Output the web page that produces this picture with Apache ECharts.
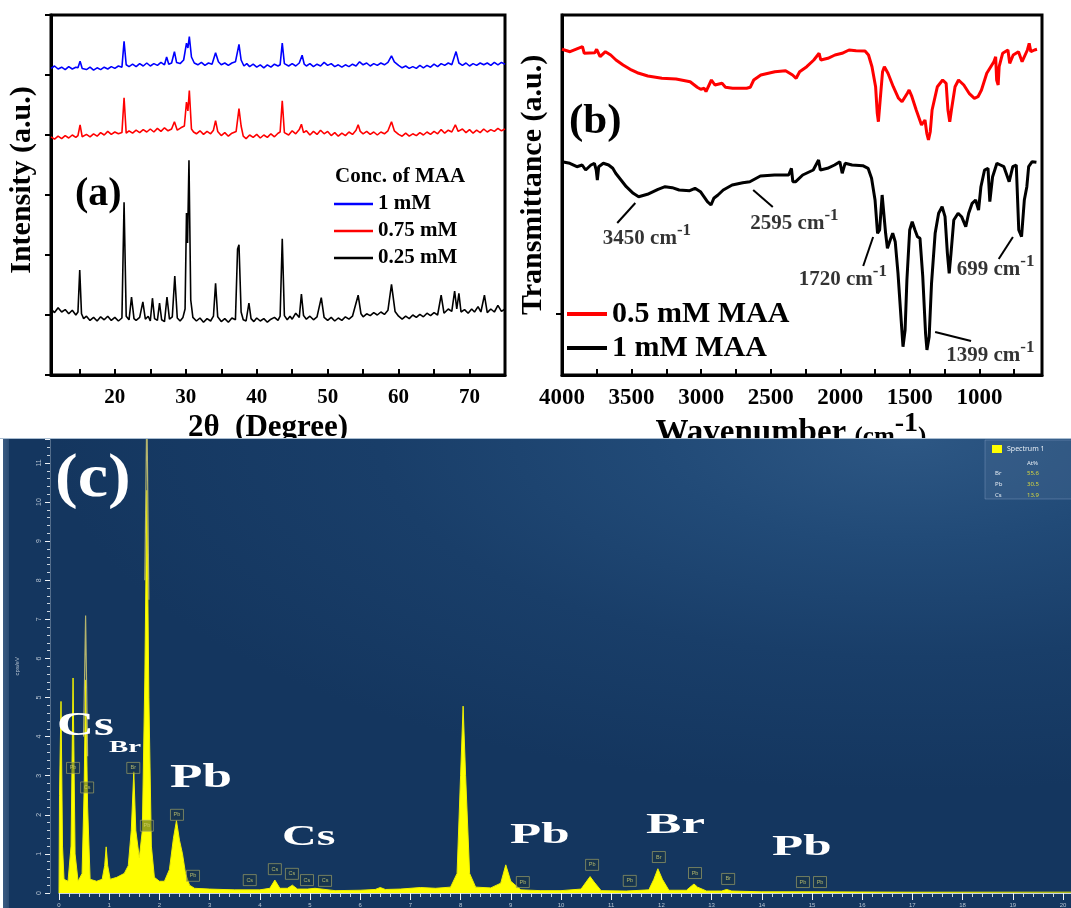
<!DOCTYPE html>
<html>
<head>
<meta charset="utf-8">
<script src="https://cdn.jsdelivr.net/npm/echarts@6/dist/echarts.min.js"></script>
<style>
html,body{margin:0;padding:0;background:#fff;width:1071px;height:908px;overflow:hidden}
#panelTop{position:absolute;left:0;top:0;width:1071px;height:438px}
#panelBottom{position:absolute;left:0;top:438px;width:1071px;height:470px;
  background:
    linear-gradient(to bottom,#a9bdd1 0,#a9bdd1 1px,transparent 1px),
    linear-gradient(to right,#fff 0,#fff 3px,#3a5b82 3px,#2b4b72 9px,transparent 9px),
    radial-gradient(ellipse 80% 75% at 85% 0%,#2d5784 0%,#214a77 30%,#193e69 62%,#14365f 100%);}
</style>
</head>
<body>
<div id="panelTop"></div>
<div id="panelBottom"></div>
<script>
// ---------- (a) XRD patterns: [2θ, stacked intensity] ----------
const xrdBlue = [[11,4.11],[11.5,4.15],[12,4.10],[12.5,4.13],[13,4.09],[13.5,4.14],[14,4.10],[14.5,4.13],[14.8,4.12],[15.1,4.23],[15.4,4.11],[16,4.09],[16.5,4.13],[17,4.08],[17.5,4.12],[18,4.09],[18.5,4.13],[19,4.10],[19.5,4.14],[20,4.11],[20.5,4.15],[21.0,4.13],[21.3,4.56],[21.6,4.17],[22,4.14],[22.5,4.18],[23,4.14],[23.5,4.19],[24,4.15],[24.5,4.20],[25,4.15],[25.5,4.19],[26,4.16],[26.5,4.21],[27,4.17],[27.3,4.30],[27.6,4.18],[28,4.20],[28.4,4.39],[28.7,4.21],[29.2,4.19],[29.7,4.25],[30.1,4.53],[30.3,4.45],[30.5,4.64],[30.8,4.30],[31.2,4.20],[31.7,4.17],[32.2,4.21],[32.7,4.16],[33.2,4.20],[33.7,4.18],[34.2,4.37],[34.6,4.22],[35,4.17],[35.5,4.20],[36,4.16],[36.5,4.20],[37,4.22],[37.5,4.51],[37.8,4.25],[38.2,4.15],[38.6,4.19],[39,4.14],[39.5,4.18],[40,4.13],[40.5,4.17],[41,4.12],[41.5,4.17],[42,4.13],[42.5,4.18],[43,4.15],[43.3,4.17],[43.6,4.53],[43.9,4.19],[44.5,4.15],[45,4.19],[45.5,4.15],[46,4.20],[46.4,4.33],[46.7,4.18],[47,4.15],[47.5,4.19],[48,4.14],[48.5,4.18],[49,4.15],[49.5,4.21],[50,4.16],[50.5,4.19],[51,4.14],[51.5,4.17],[52,4.13],[52.5,4.17],[53,4.14],[53.5,4.18],[54,4.15],[54.5,4.22],[55,4.17],[55.5,4.20],[56,4.15],[56.5,4.19],[57,4.16],[57.5,4.20],[58,4.17],[58.5,4.21],[59,4.32],[59.4,4.22],[60,4.16],[60.5,4.12],[61,4.15],[61.5,4.11],[62,4.14],[62.5,4.11],[63,4.16],[63.5,4.12],[64,4.16],[64.5,4.13],[65,4.18],[65.5,4.14],[66,4.19],[66.5,4.16],[67,4.20],[67.5,4.17],[68.1,4.39],[68.5,4.20],[69,4.16],[69.5,4.20],[70,4.15],[70.5,4.19],[71,4.16],[71.5,4.20],[72,4.17],[72.5,4.20],[73,4.16],[73.5,4.21],[74,4.17],[74.5,4.21],[75,4.18]];

const xrdRed = [[11,2.97],[11.5,2.93],[12,2.98],[12.5,2.94],[13,2.99],[13.5,2.95],[14,3.00],[14.5,2.96],[14.8,2.99],[15.1,3.17],[15.4,2.97],[16,3.01],[16.5,2.97],[17,3.02],[17.5,2.98],[18,3.04],[18.5,3.00],[19,3.06],[19.5,3.01],[20,3.05],[20.5,3.02],[21.0,3.04],[21.3,3.62],[21.6,3.03],[22,3.07],[22.5,3.03],[23,3.08],[23.5,3.04],[24,3.09],[24.5,3.05],[25,3.10],[25.5,3.05],[26,3.11],[26.5,3.06],[27,3.12],[27.5,3.07],[28,3.10],[28.4,3.22],[28.8,3.08],[29.3,3.12],[29.8,3.15],[30.1,3.55],[30.3,3.40],[30.5,3.74],[30.8,3.10],[31.1,3.05],[31.5,3.02],[32,3.07],[32.5,3.01],[33,3.06],[33.5,3.02],[33.9,3.08],[34.2,3.24],[34.5,3.06],[35,2.99],[35.5,3.04],[36,2.98],[36.5,3.03],[37.1,3.06],[37.5,3.44],[37.8,3.15],[38.1,2.98],[38.5,2.94],[39,3.00],[39.5,2.96],[40,3.01],[40.5,2.95],[41,3.00],[41.5,2.96],[42,3.02],[42.5,2.97],[43,3.03],[43.3,3.05],[43.6,3.57],[43.9,3.04],[44.5,3.00],[45,3.07],[45.5,3.02],[46,3.09],[46.3,3.18],[46.6,3.04],[47,3.07],[47.5,3.00],[48,3.06],[48.5,3.01],[49,3.08],[49.5,3.02],[50,3.06],[50.5,2.99],[51,3.04],[51.5,2.98],[52,3.03],[52.5,2.99],[53,3.05],[53.5,3.01],[54,3.08],[54.3,3.17],[54.6,3.06],[55,3.02],[55.5,3.06],[56,3.01],[56.5,3.05],[57,3.00],[57.5,3.05],[58,3.02],[58.5,3.07],[59,3.22],[59.4,3.07],[60,3.01],[60.5,2.98],[61,3.03],[61.5,2.98],[62,3.02],[62.5,2.99],[63,3.04],[63.5,3.00],[64,3.05],[64.5,3.01],[65,3.06],[65.5,3.02],[66,3.09],[66.5,3.03],[67,3.08],[67.5,3.05],[68,3.17],[68.4,3.06],[69,3.10],[69.5,3.04],[70,3.09],[70.5,3.03],[71,3.08],[71.5,3.04],[72,3.10],[72.5,3.05],[73,3.09],[73.5,3.06],[74,3.11],[74.5,3.07],[75,3.10]];

const xrdBlack = [[11,0.10],[11.5,0.04],[12,0.12],[12.5,0.05],[13,0.09],[13.5,0.02],[14,0.08],[14.5,0.00],[14.8,0.05],[15.05,0.75],[15.3,0.02],[15.6,-0.06],[16,-0.02],[16.5,-0.09],[17,-0.04],[17.5,-0.10],[18,-0.03],[18.5,-0.08],[19,-0.02],[19.5,-0.09],[20,-0.04],[20.5,-0.10],[21.0,-0.05],[21.3,1.88],[21.6,-0.02],[22,-0.08],[22.35,0.30],[22.7,-0.06],[23,-0.09],[23.5,-0.04],[23.95,0.22],[24.3,-0.07],[24.7,-0.02],[25.0,-0.10],[25.3,0.28],[25.6,-0.06],[26,-0.09],[26.3,0.20],[26.6,-0.08],[27,-0.11],[27.35,0.30],[27.7,-0.07],[28.1,-0.03],[28.45,0.65],[28.8,-0.05],[29.2,-0.10],[29.6,-0.04],[29.9,0.10],[30.1,1.70],[30.25,1.20],[30.45,2.58],[30.7,0.25],[31.0,-0.04],[31.5,-0.10],[32,-0.05],[32.5,-0.12],[33,-0.06],[33.5,-0.10],[33.9,-0.02],[34.2,0.53],[34.5,-0.03],[35,-0.11],[35.5,-0.06],[36,-0.12],[36.5,-0.05],[37,-0.08],[37.3,1.10],[37.5,1.17],[37.8,0.05],[38.1,-0.08],[38.5,-0.10],[38.9,0.20],[39.2,-0.06],[39.6,-0.11],[40,-0.05],[40.5,-0.10],[41,-0.06],[41.5,-0.12],[42,-0.07],[42.5,-0.04],[43,-0.09],[43.3,-0.02],[43.6,1.27],[43.9,-0.01],[44.3,-0.08],[44.7,-0.02],[45,-0.07],[45.5,0.03],[46,-0.04],[46.3,0.35],[46.6,-0.01],[47,-0.07],[47.5,-0.02],[48,-0.08],[48.5,-0.03],[49.1,0.29],[49.5,-0.04],[50,-0.09],[50.5,-0.04],[51,-0.10],[51.5,-0.05],[52,-0.09],[52.5,-0.03],[53,-0.07],[53.5,-0.02],[54.3,0.33],[54.7,0.02],[55,-0.03],[55.5,0.02],[56,-0.01],[56.5,0.04],[57,0.00],[57.5,0.05],[58,0.01],[58.5,0.08],[59.0,0.51],[59.5,0.06],[60,-0.02],[60.5,-0.07],[61,-0.02],[61.5,-0.06],[62,0.00],[62.5,-0.04],[63,0.01],[63.5,-0.03],[64,0.03],[64.5,-0.01],[65,0.04],[65.5,0.00],[66.0,0.33],[66.4,0.03],[67,0.10],[67.5,0.06],[67.9,0.40],[68.2,0.10],[68.5,0.36],[68.8,0.05],[69.3,0.09],[69.8,0.03],[70.3,0.10],[70.7,0.05],[71.2,0.14],[71.6,0.05],[72.1,0.33],[72.5,0.04],[73,0.10],[73.5,0.05],[74,0.16],[74.5,0.06],[75,0.10]];

const xrdNames = ['1 mM', '0.75 mM', '0.25 mM'];
const xrdTicks = [15, 20, 25, 30, 35, 40, 45, 50, 55, 60, 65, 70];
const xrdLabels = [20, 30, 40, 50, 60, 70];

// ---------- (b) FTIR spectra: [wavenumber, transmittance (offset, a.u.)] ----------
const ftirRed = [[4000,325.7],[3942,323.3],[3853,328.3],[3840,321.7],[3764,322.3],[3751,325.7],[3726,318.3],[3688,323.3],[3650,320],[3612,315],[3561,310],[3510,305.7],[3459,302.3],[3383,299],[3282,296.7],[3180,296],[3079,293.3],[3028,287.7],[3003,285.7],[2977,286.7],[2965,283.3],[2926,295],[2901,290],[2850,291.7],[2825,287.7],[2774,286.7],[2673,286.7],[2647,287.7],[2622,295],[2571,300],[2470,303.3],[2393,304.3],[2343,300],[2317,296.7],[2292,303.3],[2241,308.3],[2190,315],[2152,321.7],[2140,315],[2089,316.7],[2038,320],[1987,321.7],[1937,325],[1886,324.3],[1822,324],[1797,320],[1772,308.3],[1746,288.3],[1734,261.7],[1726,253.3],[1713,275],[1696,303.3],[1683,308.3],[1657,301.7],[1619,288.3],[1581,276.7],[1556,273.3],[1518,281.7],[1505,285],[1485,278.3],[1454,265],[1416,250],[1404,248.3],[1391,255],[1378,241.7],[1366,235],[1353,243.3],[1340,265],[1302,288.3],[1264,295],[1239,291.7],[1226,265],[1213,253.3],[1201,265],[1175,288.3],[1150,295],[1112,290],[1074,281.7],[1036,276.7],[1010,278.3],[985,285],[947,301.7],[896,313.3],[883,318.3],[876,295],[865,290],[858,308.3],[833,321.7],[795,325],[782,311.7],[757,320],[719,323.3],[693,313.3],[655,325],[642,331.7],[630,323.3],[604,325],[586,325.7]];

const ftirBlack = [[4000,213.3],[3944,211.7],[3893,208.3],[3855,210],[3830,205],[3792,210],[3767,211.7],[3754,205],[3746,195],[3736,208.3],[3703,211.7],[3665,210],[3635,206.7],[3614,201.7],[3576,195],[3538,188.3],[3488,181.7],[3449,178.3],[3386,180.7],[3310,185.7],[3259,188.3],[3208,187.3],[3158,185],[3082,184.3],[3044,186.7],[3005,183.3],[2980,178.3],[2955,173.3],[2929,170],[2909,176.7],[2879,180],[2841,185],[2777,190],[2701,192.3],[2650,193.3],[2574,199],[2473,200],[2371,200],[2351,206.7],[2341,193.3],[2320,193.3],[2270,200],[2194,205],[2156,215],[2143,205],[2092,206.7],[2041,210],[2003,213.3],[1986,201.7],[1965,211.7],[1915,210],[1838,209.3],[1800,206.7],[1775,196.7],[1750,175],[1732,141.7],[1717,145],[1699,180],[1686,178.3],[1674,141.7],[1661,126.7],[1641,135],[1623,141.7],[1605,133.3],[1585,101.7],[1564,58.3],[1549,28.3],[1534,45],[1521,95],[1501,145],[1483,153.3],[1463,145],[1445,138.3],[1427,136.7],[1407,98.3],[1387,41.7],[1377,25],[1361,38.3],[1344,91.7],[1318,141.7],[1293,161.7],[1268,168.3],[1247,158.3],[1230,121.7],[1217,101.7],[1204,121.7],[1184,155],[1153,161.7],[1128,158.3],[1098,148.3],[1077,161.7],[1052,171.7],[1027,175],[1006,165],[989,188.3],[963,205],[938,206.7],[925,173.3],[905,198.3],[874,211.7],[849,210],[824,208.3],[786,193.3],[760,208.3],[735,210],[717,145],[697,138.3],[677,175],[659,188.3],[646,208.3],[621,213.3],[590,212.7]];

const ftirNames = ['0.5 mM MAA', '1 mM MAA'];
const ftirTicks = [750, 1000, 1250, 1500, 1750, 2000, 2250, 2500, 2750, 3000, 3250, 3500, 3750, 4000];
const ftirLabels = [1000, 1500, 2000, 2500, 3000, 3500, 4000];
// band assignments: [text anchor wavenumber, text anchor level, band]
const ftirNotes = [[3710, 139, '3450'], [2650, 154, '2595'], [2302, 98, '1720'], [1167, 108, '699'], [1242, 22, '1399']];
// leader lines from each band label to its band
const ftirLeaders = [
  [[3603, 152], [3473, 172]],
  [[2626, 185], [2485, 168]],
  [[1764, 138], [1835, 109]],
  [[759, 138], [861, 116]],
  [[1318, 43], [1060, 34]]
];

// ---------- (c) EDS spectrum: [energy keV, cps/eV] ----------
const edsSpectrum = [[0,0],[0.01,2.5],[0.04,4.9],[0.07,1.2],[0.1,0.35],[0.18,0.3],[0.24,1.2],[0.28,5.5],[0.32,1.0],[0.38,0.3],[0.46,0.5],[0.5,2.6],[0.53,5.45],[0.57,2.2],[0.62,0.35],[0.75,0.3],[0.86,0.35],[0.91,0.7],[0.94,1.18],[0.97,0.7],[1.02,0.35],[1.15,0.4],[1.3,0.5],[1.38,0.7],[1.44,1.6],[1.49,3.1],[1.53,1.6],[1.6,0.9],[1.66,1.6],[1.71,5.5],[1.75,10.3],[1.79,5.0],[1.84,1.2],[1.9,0.4],[2.0,0.3],[2.1,0.3],[2.2,0.6],[2.28,1.4],[2.34,1.85],[2.4,1.35],[2.46,1.0],[2.52,0.5],[2.6,0.2],[2.7,0.12],[3.0,0.1],[3.5,0.08],[4.0,0.08],[4.2,0.12],[4.3,0.33],[4.4,0.12],[4.55,0.12],[4.65,0.2],[4.75,0.1],[4.95,0.1],[5.1,0.12],[5.5,0.06],[6.0,0.07],[6.3,0.09],[6.4,0.14],[6.5,0.09],[6.8,0.1],[7.2,0.14],[7.5,0.12],[7.8,0.15],[7.93,0.5],[8.0,3.0],[8.05,4.78],[8.1,3.0],[8.18,0.5],[8.3,0.15],[8.6,0.13],[8.8,0.25],[8.9,0.72],[9.0,0.3],[9.2,0.08],[9.6,0.06],[10.0,0.06],[10.4,0.1],[10.5,0.28],[10.58,0.42],[10.66,0.28],[10.8,0.06],[11.3,0.05],[11.75,0.08],[11.85,0.35],[11.93,0.62],[12.02,0.35],[12.15,0.07],[12.5,0.07],[12.6,0.18],[12.65,0.23],[12.72,0.15],[12.9,0.05],[13.2,0.05],[13.3,0.09],[13.4,0.05],[14,0.03],[15,0.03],[17,0.02],[20.16,0.02]];
// fitted-trace tips that rise above the filled spectrum
const edsTipO = [[0.49,4.0],[0.53,7.1],[0.57,3.5]];
const edsTipSi = [[1.71,8.0],[1.75,12.5],[1.79,7.5]];
// element line markers: [keV, cps/eV, element]
const edsMarkers = [[0.28,3.2,'Pb'],[0.56,2.7,'Cs'],[1.48,3.2,'Br'],[1.75,1.72,'Pb'],[2.35,2.0,'Pb'],[2.67,0.44,'Pb'],[3.8,0.33,'Cs'],[4.3,0.61,'Cs'],[4.64,0.49,'Cs'],[4.94,0.33,'Cs'],[5.3,0.31,'Cs'],[9.24,0.28,'Pb'],[10.62,0.72,'Pb'],[11.37,0.31,'Pb'],[11.95,0.92,'Br'],[12.67,0.51,'Pb'],[13.33,0.36,'Br'],[14.82,0.28,'Pb'],[15.16,0.28,'Pb']];
const edsQuant = [['Br', '55.6'], ['Pb', '30.5'], ['Cs', '13.9']];

const SERIF = '"Liberation Serif","Times New Roman",Times,serif';
const bold = (size, extra) => Object.assign({fontFamily: SERIF, fontWeight: 'bold', fontSize: size, color: '#000'}, extra || {});
const plain = v => String(v);

// ================= upper chart: XRD + FTIR =================
const chartTop = echarts.init(document.getElementById('panelTop'), null, {renderer: 'canvas'});
const lineSeries = (name, data, color, width, xi) => ({
  name, type: 'line', data, xAxisIndex: xi, yAxisIndex: xi,
  showSymbol: false, symbol: 'none', color,
  lineStyle: {color, width}, itemStyle: {color}, silent: true, z: 3
});

chartTop.setOption({
  backgroundColor: '#fff',
  animation: false,
  title: [{text: 'Conc. of MAA', left: 335, top: 166, padding: 0, textStyle: bold(21)}],
  legend: [
    {data: xrdNames, orient: 'vertical', left: 334, top: 192, padding: 0, icon: 'rect',
     itemWidth: 39, itemHeight: 2.5, itemGap: 3, selectedMode: false,
     textStyle: bold(21, {lineHeight: 24})},
    {data: ftirNames, orient: 'vertical', left: 567, top: 299, padding: 0, icon: 'rect',
     itemWidth: 40, itemHeight: 4, itemGap: 4, selectedMode: false,
     textStyle: bold(30, {lineHeight: 30})}
  ],
  grid: [
    {left: 51, top: 15, width: 454, height: 360, show: true, borderColor: '#000', borderWidth: 3, outerBoundsMode: 'none', containLabel: false},
    {left: 562, top: 15, width: 480, height: 360, show: true, borderColor: '#000', borderWidth: 3, outerBoundsMode: 'none', containLabel: false}
  ],
  xAxis: [
    {type: 'value', gridIndex: 0, min: 11, max: 75,
     axisLine: {onZero: false, lineStyle: {color: '#000', width: 3}},
     axisTick: {inside: true, length: 6, lineStyle: {color: '#000', width: 2}, customValues: xrdTicks},
     axisLabel: {customValues: xrdLabels, margin: 12, formatter: plain, ...bold(21)},
     splitLine: {show: false},
     name: '2θ  (Degree)', nameLocation: 'middle', nameGap: 28,
     nameTextStyle: bold(31, {padding: [0, 20, 0, 0]})},
    {type: 'value', gridIndex: 1, min: 550, max: 4000, inverse: true,
     axisLine: {onZero: false, lineStyle: {color: '#000', width: 3}},
     axisTick: {inside: true, length: 6, lineStyle: {color: '#000', width: 2}, customValues: ftirTicks},
     axisLabel: {customValues: ftirLabels, margin: 12, formatter: plain, ...bold(23)},
     splitLine: {show: false},
     name: '{w|Wavenumber }{p|(cm}{s|-1}{p|)}', nameLocation: 'middle', nameGap: 35,
     nameMoveOverlap: false,
     nameTextStyle: {padding: [0, 22, 0, 0], rich: {
       w: bold(33, {verticalAlign: 'bottom', lineHeight: 40}),
       p: bold(25, {verticalAlign: 'bottom', lineHeight: 40}),
       s: bold(28, {verticalAlign: 'top', lineHeight: 40})
     }}}
  ],
  yAxis: [
    {type: 'value', gridIndex: 0, min: -1, max: 5, interval: 1,
     axisLine: {onZero: false, lineStyle: {color: '#000', width: 3}},
     axisTick: {inside: false, length: 6, lineStyle: {color: '#000', width: 2}},
     axisLabel: {show: false}, splitLine: {show: false},
     name: 'Intensity (a.u.)', nameLocation: 'middle', nameRotate: 90, nameGap: 14,
     nameTextStyle: bold(30, {padding: [0, 0, 0, 30]})},
    {type: 'value', gridIndex: 1, min: 0, max: 360,
     axisLine: {onZero: false, lineStyle: {color: '#000', width: 3}},
     axisTick: {inside: false, length: 6, lineStyle: {color: '#000', width: 2}, customValues: [61.7]},
     axisLabel: {show: false}, splitLine: {show: false},
     name: 'Transmittance (a.u.)', nameLocation: 'middle', nameRotate: 90, nameGap: 14,
     nameTextStyle: bold(30, {padding: [0, 0, 0, 20]})}
  ],
  series: [
    lineSeries(xrdNames[0], xrdBlue, '#0000ff', 1.6, 0),
    lineSeries(xrdNames[1], xrdRed, '#ff0000', 1.6, 0),
    lineSeries(xrdNames[2], xrdBlack, '#000000', 1.6, 0),
    lineSeries(ftirNames[0], ftirRed, '#ff0000', 3, 1),
    Object.assign(lineSeries(ftirNames[1], ftirBlack, '#000000', 3, 1), {
      markLine: {
        silent: true, symbol: 'none', animation: false,
        lineStyle: {color: '#000', width: 2, type: 'solid'},
        label: {show: false},
        data: ftirLeaders.map(([a, b]) => [{coord: a}, {coord: b}])
      }
    }),
    {type: 'scatter', xAxisIndex: 1, yAxisIndex: 1, silent: true, symbolSize: 1,
     itemStyle: {color: 'rgba(0,0,0,0)'}, data: ftirNotes, z: 4,
     label: {show: true, position: 'right', distance: 0,
       formatter: p => '{n|' + p.value[2] + ' cm}{s|-1}',
       rich: {
         n: bold(21, {verticalAlign: 'bottom', lineHeight: 27}),
         s: bold(17, {verticalAlign: 'top', lineHeight: 27})
       }}}
  ],
  graphic: [
    {type: 'text', x: 75, y: 195, z: 10, silent: true,
     style: {text: '(a)', fontFamily: SERIF, fontWeight: 'bold', fontSize: 40, fill: '#000', align: 'left', verticalAlign: 'middle'}},
    {type: 'text', x: 569, y: 122, z: 10, silent: true,
     style: {text: '(b)', fontFamily: SERIF, fontWeight: 'bold', fontSize: 43, fill: '#000', align: 'left', verticalAlign: 'middle'}}
  ]
});

// ================= lower chart: EDS =================
const chartBottom = echarts.init(document.getElementById('panelBottom'), null, {renderer: 'canvas'});
const tickGrey = '#c9d4df';
const bigLabel = (text, x, y, size, sx) => ({
  type: 'text', x, y, scaleX: sx, z: 20, silent: true,
  style: {text, fontFamily: SERIF, fontWeight: 'bold', fontSize: size, fill: '#ffffff',
          align: 'left', verticalAlign: 'middle'}
});
const smallText = (text, x, y, fill) => ({
  type: 'text', x, y, z: 30, silent: true,
  style: {text, fontFamily: '"Noto Sans",sans-serif', fontSize: 6, fill, align: 'left', verticalAlign: 'middle'}
});

chartBottom.setOption({
  animation: false,
  legend: {
    data: ['Spectrum 1'], orient: 'vertical', left: 985, top: 2, icon: 'rect',
    itemWidth: 10, itemHeight: 8, selectedMode: false,
    padding: [5, 40, 46, 7],
    backgroundColor: 'rgba(75,110,150,0.35)', borderColor: 'rgba(150,175,205,0.35)', borderWidth: 1,
    textStyle: {color: '#e6edf4', fontSize: 7, fontFamily: '"Noto Sans",sans-serif'}
  },
  grid: {left: 59, top: 1.5, width: 1012, height: 453.5, outerBoundsMode: 'none', containLabel: false},
  xAxis: {
    type: 'value', min: 0, max: 20.16, interval: 1, z: 5,
    axisLine: {onZero: false, lineStyle: {color: tickGrey, width: 1}},
    axisTick: {inside: false, length: 7, lineStyle: {color: '#eef2f6', width: 1}},
    minorTick: {show: true, splitNumber: 5, length: 4, lineStyle: {color: tickGrey, width: 1}},
    axisLabel: {fontSize: 6, color: '#b7c4d2', margin: 9, showMaxLabel: false},
    splitLine: {show: false}
  },
  yAxis: {
    type: 'value', min: 0, max: 11.6, interval: 1, offset: 9, z: 5,
    axisLine: {show: true, onZero: false, lineStyle: {color: 'rgba(200,212,224,0.35)', width: 1}},
    axisTick: {inside: false, length: 5, lineStyle: {color: '#eef2f6', width: 1}},
    minorTick: {show: true, splitNumber: 5, length: 3, lineStyle: {color: tickGrey, width: 1}},
    axisLabel: {fontSize: 7, color: '#b7c4d2', margin: 7, rotate: 90, showMaxLabel: false},
    splitLine: {show: false},
    name: 'cps/eV', nameLocation: 'middle', nameRotate: 90, nameGap: 30,
    nameTextStyle: {fontSize: 6, color: '#b7c4d2'}
  },
  series: [
    {name: 'Spectrum 1', type: 'line', data: edsSpectrum, showSymbol: false, symbol: 'none',
     color: '#ffff00', itemStyle: {color: '#ffff00'},
     lineStyle: {color: '#f0f000', width: 1}, areaStyle: {color: '#ffff00', opacity: 1}, z: 2, silent: true},
    {type: 'line', data: edsTipO, showSymbol: false, symbol: 'none',
     lineStyle: {color: '#b4b46e', width: 1.2}, z: 3, silent: true},
    {type: 'line', data: edsTipSi, showSymbol: false, symbol: 'none',
     lineStyle: {color: '#b4b46e', width: 1.2}, z: 3, silent: true},
    {type: 'scatter', data: edsMarkers, symbol: 'rect', symbolSize: [13, 11], z: 4, silent: true,
     itemStyle: {color: 'rgba(25,50,60,0.55)', borderColor: '#a9a964', borderWidth: 0.8},
     label: {show: true, position: 'inside', formatter: p => p.value[2], fontSize: 5.5, color: '#d2d272'}}
  ],
  graphic: [
    bigLabel('(c)', 55, 42, 62, 1.1),
    bigLabel('Cs', 57, 288, 33, 1.55),
    bigLabel('Br', 109, 310, 17, 1.7),
    bigLabel('Pb', 170, 340, 34, 1.56),
    bigLabel('Cs', 282, 399, 30, 1.6),
    bigLabel('Pb', 510, 397, 30, 1.7),
    bigLabel('Br', 646, 387, 30, 1.77),
    bigLabel('Pb', 772, 409, 30, 1.7),
    smallText('At%', 1027, 25, '#e6edf4'),
    ...edsQuant.map((r, i) => smallText(r[0], 995, 35 + i * 11, '#e6edf4')),
    ...edsQuant.map((r, i) => smallText(r[1], 1027, 35 + i * 11, '#d6d640'))
  ]
});
</script>
</body>
</html>
